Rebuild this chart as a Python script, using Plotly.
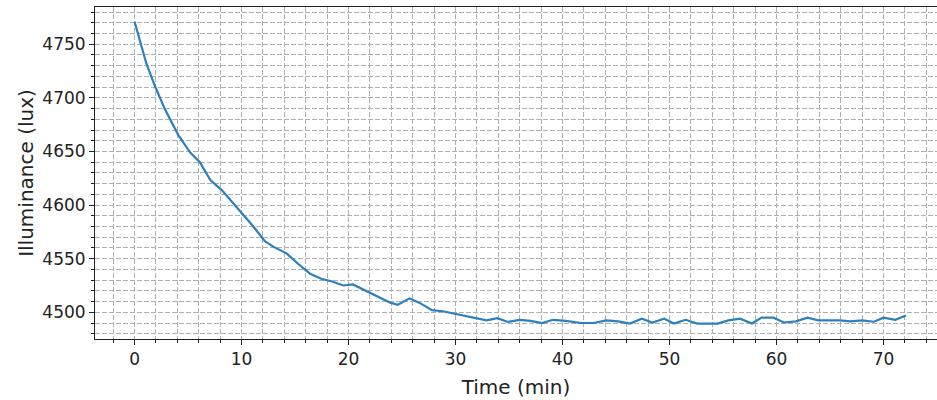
import plotly.graph_objects as go

# Illuminance readings over time
time_min = [0, 1.1, 1.9, 2.85, 4.1, 5.2, 6.1, 7.1, 8.15, 9.1, 9.9, 11.1, 12.2, 13.0,
            14.2, 15.3, 16.4, 17.5, 18.4, 19.5, 20.4, 21.6, 22.8, 23.9, 24.6, 25.7,
            26.6, 27.8, 28.8, 29.8, 30.9, 31.9, 32.9, 33.9, 34.9, 36.0, 37.0, 38.1,
            39.1, 40.3, 41.7, 42.9, 44.1, 45.2, 46.3, 47.4, 48.4, 49.5, 50.4, 51.5,
            52.6, 53.5, 54.5, 55.5, 56.6, 57.7, 58.6, 59.7, 60.7, 61.8, 62.9, 63.9,
            64.9, 65.9, 66.9, 68.0, 69.1, 70.0, 71.1, 72.1]
lux = [4771, 4732, 4711, 4689, 4665, 4649, 4640, 4623, 4614, 4603, 4593, 4580, 4566, 4561,
       4555, 4545, 4536, 4531, 4529, 4525, 4526, 4520, 4514, 4509, 4507, 4513,
       4509, 4502, 4501, 4499, 4497, 4495, 4492.5, 4494.5, 4491, 4493, 4492, 4490,
       4493, 4492, 4490, 4490, 4492.5, 4491.5, 4489.5, 4494, 4490.5, 4494, 4489.5, 4493,
       4489.5, 4489.5, 4489.5, 4492.5, 4494, 4489.5, 4495, 4495, 4490.5, 4491.5, 4495, 4492.5,
       4492.5, 4492.5, 4491.5, 4492.5, 4491.2, 4495, 4493, 4497]

FONT = "DejaVu Sans"
GRID = "#b0b0b0"
DASH = "5px,2px"

fig = go.Figure()
fig.add_trace(go.Scatter(x=time_min, y=lux, mode="lines",
                         line=dict(color="#2b80bd", width=2.2), showlegend=False))

axis_common = dict(
    showline=True, linecolor="#222222", linewidth=1,
    ticks="outside", ticklen=5, tickwidth=1, tickcolor="#222222",
    showgrid=True, gridcolor=GRID, griddash=DASH, gridwidth=1,
    zeroline=False,
    tickfont=dict(family=FONT, size=17, color="#222222"),
)

fig.update_xaxes(
    range=[-3.7, 75.0], tick0=0, dtick=10, mirror=True,
    minor=dict(dtick=2, tick0=0, ticks="outside", ticklen=3, tickcolor="#222222",
               showgrid=True, gridcolor=GRID, griddash=DASH, gridwidth=1),
    title=dict(text="Time (min)", font=dict(family=FONT, size=20, color="#222222"), standoff=11),
    **axis_common,
)
fig.update_yaxes(
    range=[4475.1, 4784.7], tick0=0, dtick=50,
    minor=dict(dtick=10, tick0=0, ticks="outside", ticklen=3, tickcolor="#222222",
               showgrid=True, gridcolor=GRID, griddash=DASH, gridwidth=1),
    title=dict(text="Illuminance (lux)", font=dict(family=FONT, size=20, color="#222222"), standoff=3),
    **axis_common,
)

fig.update_layout(
    width=937, height=400,
    margin=dict(l=95, r=0, t=7, b=61),
    plot_bgcolor="white", paper_bgcolor="white",
)

fig.write_html("out.html")
